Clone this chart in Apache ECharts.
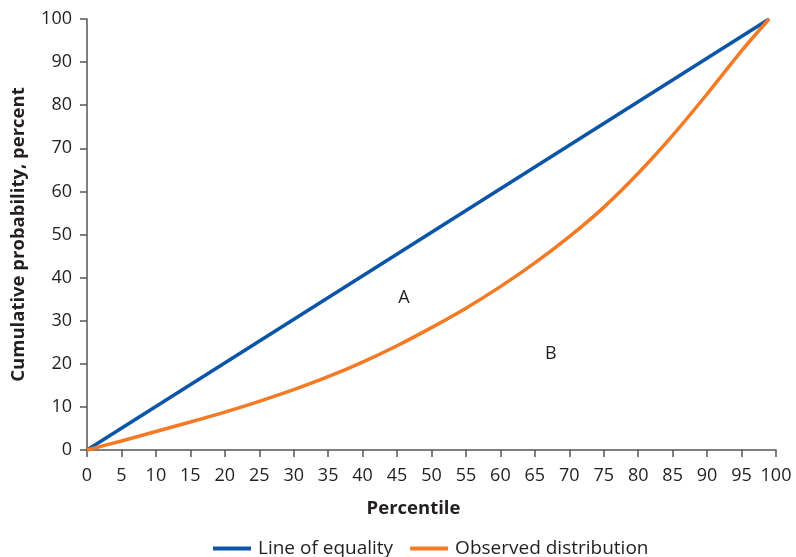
<!DOCTYPE html>
<html><head><meta charset="utf-8">
<script src="https://cdn.jsdelivr.net/npm/echarts@6/dist/echarts.min.js"></script>
<style>html,body{margin:0;padding:0;background:#fff}#c{width:796px;height:557px}</style>
</head><body><div id="c"></div>
<script>
const percentiles = [0, 5, 10, 15, 20, 25, 30, 35, 40, 45, 50, 55, 60, 65, 70, 75, 80, 85, 90, 95, 99];
const observed = [0, 2.1, 4.3, 6.5, 8.8, 11.3, 14.0, 17.0, 20.4, 24.2, 28.4, 32.9, 37.9, 43.4, 49.5, 56.3, 64.2, 73.0, 82.6, 92.6, 100];
const equalityX = [0, 99];
const equalityY = [0, 100];
const annotations = [{ text: 'A', x: 46, y: 35.3 }, { text: 'B', x: 67.3, y: 22.3 }];

const FONT = '"Open Sans", sans-serif';
const TXT = '#231f20';
const chart = echarts.init(document.getElementById('c'), null, { renderer: 'canvas' });
chart.setOption({
  animation: false,
  textStyle: { fontFamily: FONT, color: TXT },
  grid: { left: 87, right: 20, top: 19, bottom: 107, containLabel: false },
  legend: {
    top: 534, left: 208, itemWidth: 38, itemHeight: 4, itemGap: 17,
    icon: 'rect',
    textStyle: { fontFamily: FONT, fontSize: 19, color: TXT, padding: [0, 0, 0, 2] },
    data: ['Line of equality', 'Observed distribution']
  },
  xAxis: {
    type: 'value', min: 0, max: 100, interval: 5,
    name: 'Percentile', nameLocation: 'middle', nameGap: 49,
    nameTextStyle: { fontFamily: FONT, fontSize: 18.5, fontWeight: 'bold', color: TXT, padding: [0, 36, 0, 0] },
    axisLine: { lineStyle: { color: '#555', width: 1.5 } },
    axisTick: { show: true, length: 7, lineStyle: { color: '#555', width: 1.5 } },
    axisLabel: { fontFamily: FONT, fontSize: 18, color: TXT, margin: 17 },
    splitLine: { show: false }
  },
  yAxis: {
    type: 'value', min: 0, max: 100, interval: 10,
    name: 'Cumulative probability, percent', nameLocation: 'middle', nameGap: 59,
    nameTextStyle: { fontFamily: FONT, fontSize: 18.5, fontWeight: 'bold', color: TXT },
    axisLine: { show: true, lineStyle: { color: '#555', width: 1.5 } },
    axisTick: { show: true, length: 7, lineStyle: { color: '#555', width: 1.5 } },
    axisLabel: { fontFamily: FONT, fontSize: 18, color: TXT, margin: 15 },
    splitLine: { show: false }
  },
  series: [
    {
      name: 'Line of equality', type: 'line', showSymbol: false, symbol: 'none',
      data: equalityX.map((x, i) => [x, equalityY[i]]),
      lineStyle: { color: '#0a55a5', width: 3.5 }, itemStyle: { color: '#0a55a5' },
      markPoint: {
        symbol: 'circle', symbolSize: 0,
        label: { show: true, position: 'inside', fontFamily: FONT, fontSize: 18, color: TXT, formatter: p => p.name },
        data: annotations.map(a => ({ name: a.text, coord: [a.x, a.y] }))
      }
    },
    {
      name: 'Observed distribution', type: 'line', smooth: 0.3, showSymbol: false, symbol: 'none',
      data: percentiles.map((x, i) => [x, observed[i]]),
      lineStyle: { color: '#f47a26', width: 3.5 }, itemStyle: { color: '#f47a26' }
    }
  ]
});
</script></body></html>
